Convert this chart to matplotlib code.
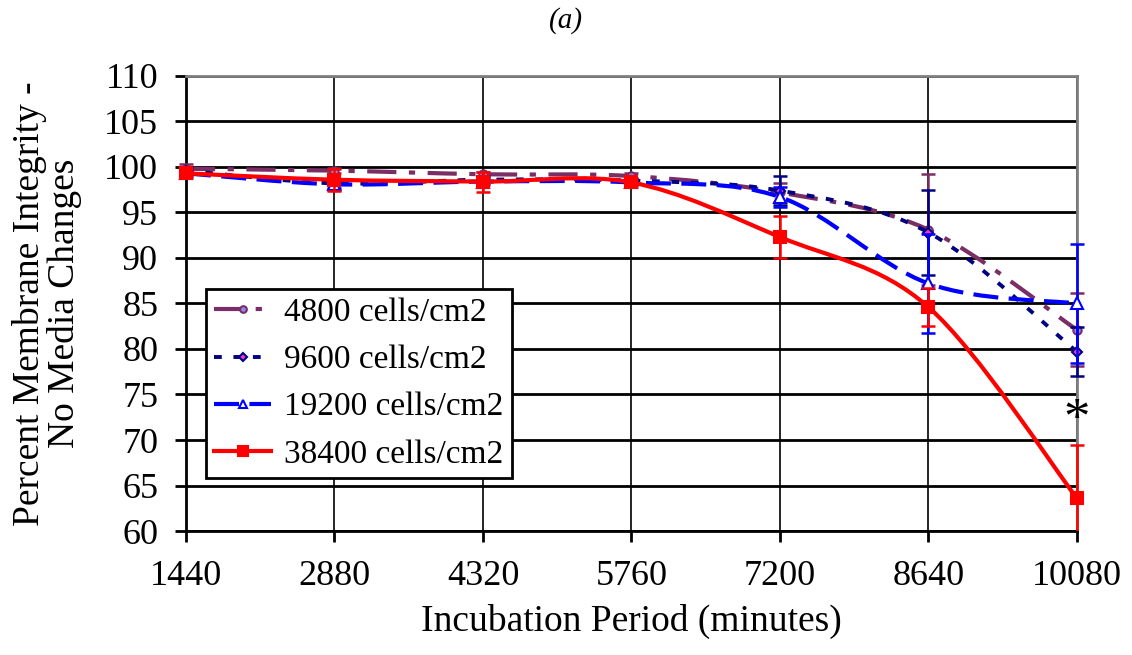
import matplotlib.pyplot as plt
from matplotlib.path import Path
from matplotlib.patches import PathPatch
from matplotlib.lines import Line2D
from matplotlib.transforms import Bbox, TransformedBbox

plt.rcParams['font.family'] = ['Liberation Serif', 'DejaVu Serif']

minutes = [1440, 2880, 4320, 5760, 7200, 8640, 10080]
labels = ['4800 cells/cm2', '9600 cells/cm2', '19200 cells/cm2', '38400 cells/cm2']

d4800 = [99.8, 99.6, 99.2, 99.0, 97.2, 93.1, 82.1]
e4800 = [0.5, 0.3, 0.3, 0.3, 1.0, 6.1, 4.0]
d9600 = [99.6, 98.2, 98.6, 98.5, 97.4, 92.8, 79.7]
e9600 = [0.4, 0.5, 0.4, 0.3, 1.6, 4.7, 2.7]
d19200 = [99.3, 98.1, 98.4, 98.3, 96.7, 87.2, 85.0]
e19200 = [0.3, 0.6, 0.4, 0.3, 1.1, 5.4, 6.5]
d38400 = [99.3, 98.6, 98.4, 98.3, 92.3, 84.6, 63.6]
e38400 = [0.4, 1.2, 1.1, 0.4, 2.3, 2.1, 5.8]

star_y = 73.5

styles = [
    dict(color='#7B2D65', ls=(0, (7, 3, 1.5, 3)), lw=3, marker='o', ms=6, mfc='#8C8CF0', mec='#7B2D65'),
    dict(color='#000080', ls=(0, (2, 3)), lw=2.8, marker='D', ms=5, mfc='#FF33CC', mec='#000080'),
    dict(color='#0000FF', ls=(0, (6, 2.5)), lw=3, marker='^', ms=8, mfc='white', mec='#0000FF'),
    dict(color='#FF0000', ls='-', lw=3, marker='s', ms=9, mfc='#FF0000', mec='#FF0000'),
]


def smooth_path(xs, ys):
    # Catmull-Rom segments written as cubic Bezier curves
    verts = [(xs[0], ys[0])]
    codes = [Path.MOVETO]
    n = len(xs)
    for i in range(n - 1):
        x0, y0 = (xs[i - 1], ys[i - 1]) if i > 0 else (xs[i], ys[i])
        x1, y1 = xs[i], ys[i]
        x2, y2 = xs[i + 1], ys[i + 1]
        x3, y3 = (xs[i + 2], ys[i + 2]) if i + 2 < n else (x2, y2)
        c1 = (x1 + (x2 - x0) / 6, y1 + (y2 - y0) / 6)
        c2 = (x2 - (x3 - x1) / 6, y2 - (y3 - y1) / 6)
        verts += [c1, c2, (x2, y2)]
        codes += [Path.CURVE4] * 3
    return Path(verts, codes)


fig = plt.figure(figsize=(11.32, 6.55), dpi=100)
ax = fig.add_axes([0.1643, 0.1893, 0.7871, 0.6947])
clip = TransformedBbox(Bbox([[-0.05, 0.0], [1.05, 1.05]]), ax.transAxes)

series = [(d4800, e4800), (d9600, e9600), (d19200, e19200), (d38400, e38400)]
handles = []
for k, ((vals, errs), st) in enumerate(zip(series, styles)):
    z = 3 + k
    patch = PathPatch(smooth_path(minutes, vals), facecolor='none', edgecolor=st['color'],
                      lw=st['lw'], linestyle=st['ls'], zorder=z, capstyle='butt')
    ax.add_patch(patch)
    eb = ax.errorbar(minutes, vals, yerr=errs, fmt='none', ecolor=st['color'], elinewidth=1.8,
                     capsize=5, capthick=1.8, zorder=z)
    for art in eb.lines[1] + eb.lines[2]:
        art.set_clip_box(clip)
    ax.plot(minutes, vals, ls='none', marker=st['marker'], ms=st['ms'], mfc=st['mfc'],
            mec=st['mec'], mew=1.5, zorder=z + 0.5, clip_on=False)
    handles.append(Line2D([], [], color=st['color'], ls=st['ls'], lw=st['lw'], marker=st['marker'],
                          ms=st['ms'] * 0.8, mfc=st['mfc'], mec=st['mec'], mew=1.5))

ax.annotate('*', (minutes[-1], star_y), xytext=(0, -9), textcoords='offset points',
            fontsize=38, ha='center', va='center', zorder=10)

ax.set_xlim(1440, 10080)
ax.set_ylim(60, 110)
ax.set_xticks(minutes)
ax.set_yticks(range(60, 111, 5))
ax.tick_params(labelsize=26, direction='out', length=8, width=2)
ax.tick_params(axis='x', pad=13)
ax.tick_params(axis='y', pad=12)
ax.grid(axis='y', color='black', lw=2)
ax.grid(axis='x', color='black', lw=1.2)
ax.set_axisbelow(True)
for s in ['top', 'right']:
    ax.spines[s].set_color('#808080')
    ax.spines[s].set_linewidth(2)
for s in ['left', 'bottom']:
    ax.spines[s].set_linewidth(2)

ax.set_xlabel('Incubation Period (minutes)', fontsize=27, labelpad=8)
ax.set_ylabel('Percent Membrane Integrity -\nNo Media Changes', fontsize=27, labelpad=16,
              linespacing=1.0)
fig.text(0.5, 0.969, '(a)', fontsize=21, style='italic', ha='center', va='center')

leg = ax.legend(handles, labels, loc='lower left', bbox_to_anchor=(0.0224, 0.1165), fontsize=24,
                frameon=True, fancybox=False, handlelength=1.7, borderpad=0.25,
                labelspacing=0.5, handletextpad=0.4, borderaxespad=0)
leg.get_frame().set_edgecolor('black')
leg.get_frame().set_linewidth(2)
leg.get_frame().set_alpha(1)

fig.savefig('out.png', dpi=100)
